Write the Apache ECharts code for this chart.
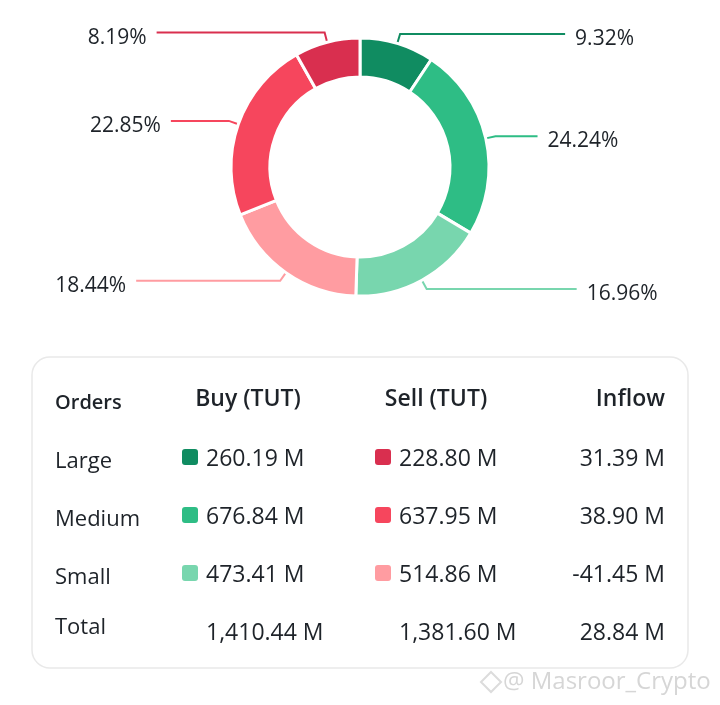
<!DOCTYPE html>
<html>
<head>
<meta charset="utf-8">
<script src="https://cdn.jsdelivr.net/npm/echarts@6/dist/echarts.min.js"></script>
<style>
  html, body { margin: 0; padding: 0; background: #fff; }
  #main { width: 720px; height: 705px; }
</style>
</head>
<body>
<div id="main"></div>
<script>
// order size rows
var orderTypes = ['Large', 'Medium', 'Small'];
var buyValues = [260.19, 676.84, 473.41];
var sellValues = [228.80, 637.95, 514.86];
var inflowValues = [31.39, 38.90, -41.45];
var totalValues = [1410.44, 1381.60, 28.84];
var headers = ['Orders', 'Buy (TUT)', 'Sell (TUT)', 'Inflow'];

var buyColors = ['#108c61', '#2ebd85', '#78d6ae'];
var sellColors = ['#d92f4f', '#f6465d', '#ff9ca1'];

var FONT = '"Open Sans", "Noto Sans", sans-serif';
var TXT = '#1e2329';

function fmt(v) {
  var s = Math.abs(v).toFixed(2).replace(/\B(?=(\d{3})+(?!\d))/g, ',');
  return (v < 0 ? '-' : '') + s + ' M';
}

var myChart = echarts.init(document.getElementById('main'));

// pie goes clockwise: buy large -> buy small, then sell small -> sell large
var len2Buy = [165, 42, 150];
var len2Sell = [168, 58, 144];
var pieData = [];
for (var i = 0; i < 3; i++) {
  pieData.push({
    name: 'Buy ' + orderTypes[i],
    value: buyValues[i],
    itemStyle: { color: buyColors[i] },
    labelLine: { length2: len2Buy[i], lineStyle: { color: buyColors[i] } }
  });
}
for (var j = 2; j >= 0; j--) {
  pieData.push({
    name: 'Sell ' + orderTypes[j],
    value: sellValues[j],
    itemStyle: { color: sellColors[j] },
    labelLine: { length2: len2Sell[j], lineStyle: { color: sellColors[j] } }
  });
}

// table
var g = [];
g.push({
  type: 'rect', shape: { x: 32, y: 357, width: 656, height: 311, r: 18 },
  style: { fill: '#fff', stroke: '#e9e9e9', lineWidth: 1.5 }, z: 0
});
var colX = [55, 248, 436, 665];
var colAlign = ['left', 'center', 'center', 'right'];
var headY = [403, 399, 399, 399];
for (var h = 0; h < headers.length; h++) {
  g.push({
    type: 'text', z: 2,
    style: {
      text: headers[h], x: colX[h], y: headY[h], textAlign: colAlign[h], textVerticalAlign: 'middle',
      font: (h == 0 ? '600 20px ' : '600 23px ') + FONT, fill: TXT
    }
  });
}
var rowY = [461, 519, 577];
var VF = '23px ' + FONT;
for (var r = 0; r < orderTypes.length; r++) {
  var y = rowY[r];
  g.push({ type: 'text', z: 2, style: { text: orderTypes[r], x: 55, y: y + 1, textVerticalAlign: 'middle', font: '22px ' + FONT, fill: TXT } });
  g.push({ type: 'rect', z: 2, shape: { x: 182, y: y - 12, width: 16, height: 16, r: 3 }, style: { fill: buyColors[r] } });
  g.push({ type: 'text', z: 2, style: { text: fmt(buyValues[r]), x: 206, y: y - 2, textVerticalAlign: 'middle', font: VF, fill: TXT } });
  g.push({ type: 'rect', z: 2, shape: { x: 375, y: y - 12, width: 16, height: 16, r: 3 }, style: { fill: sellColors[r] } });
  g.push({ type: 'text', z: 2, style: { text: fmt(sellValues[r]), x: 399, y: y - 2, textVerticalAlign: 'middle', font: VF, fill: TXT } });
  g.push({ type: 'text', z: 2, style: { text: fmt(inflowValues[r]), x: 665, y: y - 2, textAlign: 'right', textVerticalAlign: 'middle', font: VF, fill: TXT } });
}
g.push({ type: 'text', z: 2, style: { text: 'Total', x: 55, y: 628, textVerticalAlign: 'middle', font: '22px ' + FONT, fill: TXT } });
g.push({ type: 'text', z: 2, style: { text: fmt(totalValues[0]), x: 206, y: 633, textVerticalAlign: 'middle', font: VF, fill: TXT } });
g.push({ type: 'text', z: 2, style: { text: fmt(totalValues[1]), x: 399, y: 633, textVerticalAlign: 'middle', font: VF, fill: TXT } });
g.push({ type: 'text', z: 2, style: { text: fmt(totalValues[2]), x: 665, y: 633, textAlign: 'right', textVerticalAlign: 'middle', font: VF, fill: TXT } });

// watermark
g.push({ type: 'polygon', z: 3, shape: { points: [[491, 672], [501, 682], [491, 692], [481, 682]] }, style: { fill: 'none', stroke: '#dcdcdc', lineWidth: 2 } });
g.push({ type: 'text', z: 3, style: { text: '@ Masroor_Crypto', x: 503, y: 682, textVerticalAlign: 'middle', font: '24px ' + FONT, fill: '#d6d6d6' } });

var option = {
  backgroundColor: '#fff',
  animation: false,
  graphic: g,
  series: [
    {
      type: 'pie',
      center: [360, 167],
      radius: [90, 129],
      startAngle: 90,
      clockwise: true,
      avoidLabelOverlap: false,
      itemStyle: { borderColor: '#fff', borderWidth: 3 },
      label: {
        show: true,
        position: 'outside',
        formatter: '{t|{d}%}',
        distanceToLabelLine: 10,
        rich: {
          t: { fontFamily: FONT, fontSize: 21, color: TXT, padding: [10, 0, 0, 0] }
        }
      },
      labelLine: { show: true, length: 10, lineStyle: { width: 2 } },
      emphasis: { disabled: true },
      data: pieData
    }
  ]
};

myChart.setOption(option);
window.addEventListener('resize', function () {
  myChart.resize();
});
</script>
</body>
</html>
